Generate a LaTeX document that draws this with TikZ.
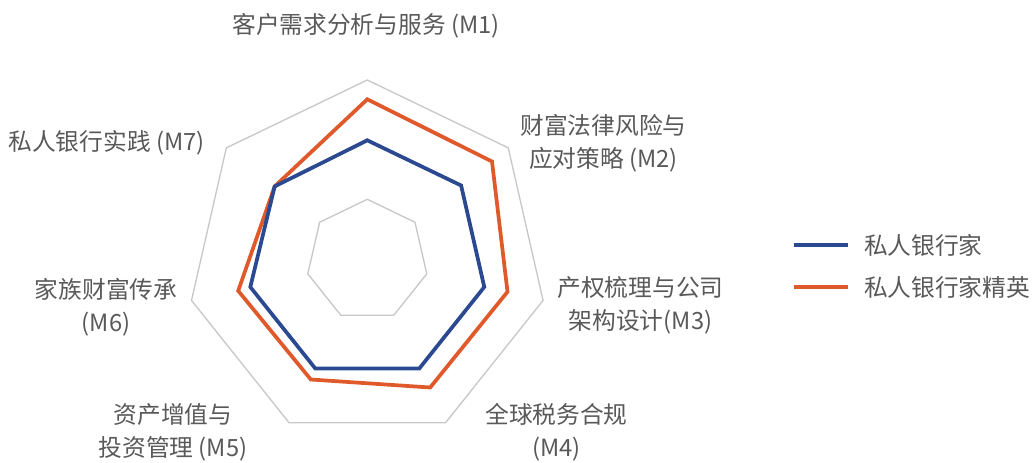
\documentclass[tikz,border=0pt]{standalone}
\usepackage{fontspec}
\setmainfont{Noto Sans CJK SC}

\definecolor{gridgray}{RGB}{200,200,200}
\definecolor{bankerblue}{RGB}{43,73,145}
\definecolor{eliteorange}{RGB}{224,89,43}
\definecolor{labelgray}{RGB}{89,89,89}

\tikzset{every picture/.style={line width=0.75pt}}
\tikzset{
	grid ring/.style={draw=gridgray, line width=1pt, line join=miter},
	series line/.style={line width=2.8pt, line join=miter},
	axis label/.style={text=labelgray, align=center, inner sep=0pt,
		font=\fontsize{17.8pt}{24.5pt}\selectfont},
	legend text/.style={text=labelgray, anchor=west, inner sep=0pt,
		font=\fontsize{17.8pt}{24.5pt}\selectfont}}

\begin{document}
\begin{tikzpicture}[x=0.75pt,y=0.75pt,yscale=-1,xscale=1]
	%set diagram size to 1035 x 463
	\useasboundingbox (0,0) rectangle (1035,463);

	%Shape: Heptagon [id:outer] 
	\draw [grid ring] (367.3,80) -- (508.26,147.88) -- (543.08,300.42) -- (445.53,422.75) -- (289.07,422.75) -- (191.52,300.42) -- (226.34,147.88) -- cycle ;
	%Shape: Heptagon [id:inner] 
	\draw [grid ring] (367.3,199.3) -- (414.99,222.27) -- (426.77,273.87) -- (393.77,315.26) -- (340.83,315.26) -- (307.83,273.87) -- (319.61,222.27) -- cycle ;

	%Shape: Polygon [id:elite] 
	\draw [series line, draw=eliteorange] (367.3,99.3) -- (492,161.5) -- (507.5,291.8) -- (430.2,387.5) -- (310.8,379.5) -- (238.2,290.8) -- (274.66,186.42) -- cycle ;
	%Shape: Polygon [id:banker] 
	\draw [series line, draw=bankerblue] (367.3,140.3) -- (461.12,185.48) -- (484.29,287) -- (419.37,368.42) -- (315.23,368.42) -- (250.31,287) -- (274.66,186.42) -- cycle ;

	%Straight Lines [id:legend banker] 
	\draw [series line, draw=bankerblue] (794,245) -- (848,245) ;
	%Straight Lines [id:legend elite] 
	\draw [series line, draw=eliteorange] (794,287) -- (848,287) ;

	% Text Node
	\draw (366,26) node (m1) [axis label] {客户需求分析与服务 (M1)};
	% Text Node
	\draw (603.5,143.5) node (m2) [axis label] {财富法律风险与\\应对策略 (M2)};
	% Text Node
	\draw (640.5,305) node (m3) [axis label] {产权梳理与公司\\架构设计(M3)};
	% Text Node
	\draw (556.5,432) node (m4) [axis label] {全球税务合规\\(M4)};
	% Text Node
	\draw (173,432) node (m5) [axis label] {资产增值与\\投资管理 (M5)};
	% Text Node
	\draw (106,307) node (m6) [axis label] {家族财富传承\\(M6)};
	% Text Node
	\draw (106.5,143) node (m7) [axis label] {私人银行实践 (M7)};
	% Text Node
	\draw (863.5,245) node (banker) [legend text] {私人银行家};
	% Text Node
	\draw (863.5,287) node (elite) [legend text] {私人银行家精英};

\end{tikzpicture}
\end{document}
